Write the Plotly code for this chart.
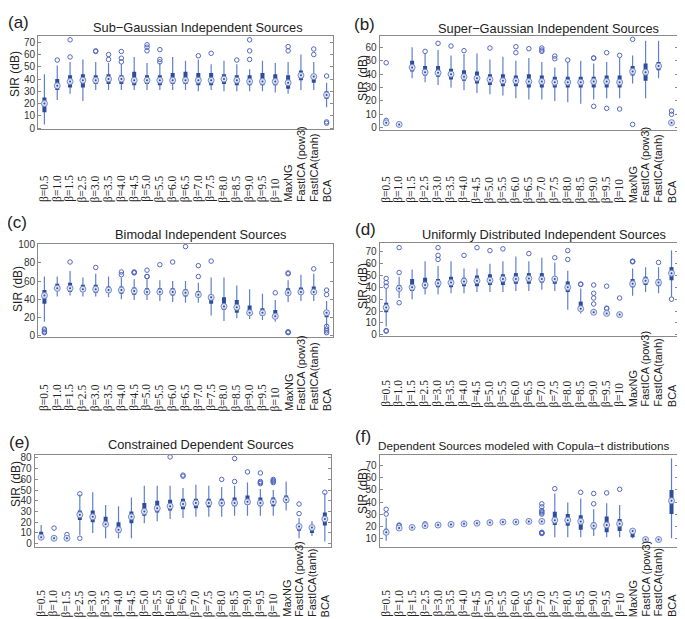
import plotly.graph_objects as go

categories = ["β=0.5", "β=1.0", "β=1.5", "β=2.5", "β=3.0", "β=3.5", "β=4.0", "β=4.5",
              "β=5.0", "β=5.5", "β=6.0", "β=6.5", "β=7.0", "β=7.5", "β=8.0", "β=8.5",
              "β=9.0", "β=9.5", "β=10", "MaxNG", "FastICA (pow3)", "FastICA(tanh)", "BCA"]

panel_letters = ["(a)", "(b)", "(c)", "(d)", "(e)", "(f)"]
panel_titles = ["Sub\u2212Gaussian Independent Sources",
                "Super\u2212Gaussian Independent Sources",
                "Bimodal Independent Sources",
                "Uniformly Distributed Independent Sources",
                "Constrained Dependent Sources",
                "Dependent Sources modeled with Copula\u2212t distributions"]
y_label = "SIR (dB)"

# ---------------- (a) Sub-Gaussian ----------------
a_lo  = [3, 23, 28, 22, 31, 31, 31, 31, 31, 31, 31, 31, 30, 31, 30, 30, 30, 30, 29, 28, 31, 31, 17]
a_q1  = [13, 31, 33, 33, 36, 36, 36, 35, 36, 35, 36, 36, 35, 35, 36, 35, 35, 35, 35, 32, 39, 37, 24]
a_med = [20, 34.5, 38, 39, 39, 40, 40, 39, 39, 39, 39, 39, 39, 39, 40, 39, 38, 38, 38, 37, 43, 42, 27]
a_q3  = [25, 40, 43, 44, 43, 44, 43, 46, 43, 43, 45, 46, 45, 45, 44, 43, 43, 45, 44, 43, 47, 44, 30]
a_hi  = [44, 51, 54, 56, 54, 53, 52, 58, 53, 53, 58, 55, 56, 52, 55, 52, 48, 55, 53, 54, 60, 54, 37]
a_out = [[], [55.5], [58, 72], [], [62.5, 63], [56, 60], [54, 57, 62.5], [], [63, 66, 68],
         [54, 56, 64], [], [], [59], [61], [], [55.5], [56, 63, 72], [], [], [63, 66.5], [],
         [60, 64.5], [4, 5, 42.5]]

# ---------------- (b) Super-Gaussian ----------------
b_lo  = [3, 2, 37, 34, 32, 30, 28, 26, 25, 24, 22, 21, 21, 20, 19, 18, 21, 22, 22, 33, 22, 37, 3]
b_q1  = [3.3, 2.2, 42, 39, 38, 36, 35, 33, 32, 31, 31, 30, 30, 30, 30, 30, 30, 30, 30, 39, 35, 43, 3.2]
b_med = [3.7, 2.5, 45, 41.5, 41, 40, 38, 37, 36, 35, 35, 34.5, 34.5, 34, 34, 34, 34.5, 34.5, 34, 42, 41.5, 46, 3.8]
b_q3  = [4, 2.8, 50, 46, 46, 44, 43, 42, 40, 40, 39, 40, 39, 38, 38, 38, 38, 39, 39, 46, 48, 49, 4.2]
b_hi  = [4.5, 3.2, 60, 55, 58, 54, 55, 55.5, 51, 53, 50, 52, 49, 45, 49, 50, 48, 49, 52, 54, 65, 65, 5]
b_out = [[5.5, 48.5], [], [], [57], [63], [61], [57.5], [], [59.5], [], [56, 60.5], [59],
         [57, 58, 59.5], [51.5, 53.5], [50.5], [], [16, 52, 52], [14.5, 56], [14, 54],
         [2.5, 66], [], [], [10, 12.5]]

# ---------------- (c) Bimodal ----------------
c_lo  = [15, 43, 44, 43, 43, 42, 40, 39, 39, 38, 37, 36, 36, 22, 16, 19, 18, 17, 15, 37, 38, 38, 10]
c_q1  = [35, 49, 48, 48, 47, 47, 46, 45, 45, 45, 44, 43, 42, 35, 28, 25, 22, 22, 18, 44, 45, 45, 20]
c_med = [44, 52, 52, 51, 51, 50, 50, 49, 48, 48, 48, 47, 45, 42, 32, 31, 25, 25, 21, 47, 48, 48, 25]
c_q3  = [50, 57, 58, 56, 56, 54, 54, 53, 52, 52, 52, 51, 49, 45, 42, 39, 33, 30, 28, 52, 53, 54, 28]
c_hi  = [65, 65, 71, 64, 68, 65, 64, 62, 62, 61, 60, 60, 58, 64, 64, 55, 51, 46, 39, 61, 67, 68, 38]
c_out = [[3, 4, 6, 7], [], [81], [], [75], [], [67, 70], [69, 69.5, 70], [65, 65, 72], [78],
         [81], [98], [65, 77], [82], [], [], [], [], [47], [3, 3.5, 4, 68, 69], [], [73.5],
         [3, 5, 7, 10, 45, 50]]

# ---------------- (d) Uniform ----------------
d_lo  = [7, 31, 30, 34, 34, 35, 35, 36, 36, 36, 37, 37, 38, 37, 21, 18, 17, 16, 15.5, 33, 36, 35, 32]
d_q1  = [19, 37, 37, 39, 40, 40, 41, 41, 42, 42, 43, 43, 44, 43, 36, 21, 18, 17, 16.5, 40, 42, 41, 46]
d_med = [23, 39, 40, 42, 43.5, 44, 45, 45.5, 46, 47, 47, 47.5, 47, 47, 40, 22, 19, 18, 17, 43, 45.5, 44, 52]
d_q3  = [27, 42, 47, 48, 47, 49, 48, 50, 51, 51, 52, 52, 52, 49, 45, 28, 20, 19, 18, 47, 49, 47, 57]
d_hi  = [39, 49, 55, 62, 58, 62, 56, 56, 60, 62, 66, 62, 65, 61, 54, 39, 22, 21, 19, 56, 57, 57, 71]
d_out = [[3, 3.5, 41, 44, 47.5], [27, 52.5, 73.5], [], [], [63.5, 67, 73.5], [], [67], [73.5],
         [71], [72.5], [], [68.5], [], [65], [63.5, 71], [42.5, 42.8], [26, 31, 35, 42],
         [22, 22.5, 41], [31], [61.5, 62, 62], [], [61], [30]]

# ---------------- (e) Constrained dependent ----------------
e_lo  = [5.5, 4.5, 4.5, 8, 10, 5, 5, 5, 19, 21, 23, 24, 25, 25, 25, 26, 26, 26, 26, 31, 5, 7, 2]
e_q1  = [6, 4.8, 4.7, 22, 20, 16, 10, 19, 26, 29, 31, 32, 33, 34, 35, 35, 36, 35, 35, 38, 12, 10, 17]
e_med = [6, 5, 5, 27, 25, 18, 13, 25, 30, 33, 35, 37, 38, 38, 38, 38, 39, 38, 39, 41, 16, 15, 23]
e_q3  = [11, 5.3, 5.5, 31, 31, 25, 20, 30, 38, 40, 41, 42, 42, 42, 42, 43, 45, 43, 43, 45, 17, 17, 29]
e_hi  = [17.5, 5.8, 6, 46, 48, 36, 35, 43, 54, 54, 54, 52, 55, 54, 53, 54, 57, 51, 50, 58, 24, 21, 47]
e_out = [[], [14.5], [8.5], [5, 46.5], [], [], [], [], [], [], [81], [63, 64], [], [], [60],
         [58, 79.5], [67], [56, 57, 58, 66], [57, 58, 59, 60], [], [28, 37], [], [48]]

# ---------------- (f) Copula-t dependent ----------------
f_lo  = [8, 18, 18.6, 20.2, 20.7, 21.2, 21.7, 22.2, 22.7, 23.2, 23.2, 23.7, 23.5, 11, 11, 11, 12, 11, 11, 10, 8.8, 8.5, 10]
f_q1  = [14, 18.2, 18.8, 20.4, 20.9, 21.4, 21.9, 22.4, 22.9, 23.4, 23.4, 23.9, 23.8, 21, 20.5, 17, 17.5, 15, 16, 11, 9, 8.8, 30]
f_med = [15, 18.5, 19, 20.5, 21, 21.5, 22, 22.5, 23, 23.5, 23.5, 24, 24, 25, 25, 24, 20.5, 21, 22, 16, 9, 9, 41]
f_q3  = [18, 19, 19.2, 20.7, 21.2, 21.7, 22.2, 22.7, 23.2, 23.7, 23.7, 24.2, 24.2, 32, 30, 29, 23, 28, 26, 16.5, 9.1, 9.2, 50]
f_hi  = [27, 19.5, 19.4, 20.9, 21.4, 21.9, 22.4, 22.9, 23.4, 23.9, 23.9, 24.4, 24.5, 47, 39.5, 43, 34, 39, 37.5, 17, 9.2, 9.5, 76]
f_out = [[30, 34], [20.5, 21], [], [22], [], [], [], [], [], [], [], [],
         [14, 14.3, 14.6, 15, 30, 31, 32, 33, 36, 38.5], [51], [], [48], [38.5, 47], [47.5],
         [50.5], [], [], [], []]

panels = [
    (a_lo, a_q1, a_med, a_q3, a_hi, a_out),
    (b_lo, b_q1, b_med, b_q3, b_hi, b_out),
    (c_lo, c_q1, c_med, c_q3, c_hi, c_out),
    (d_lo, d_q1, d_med, d_q3, d_hi, d_out),
    (e_lo, e_q1, e_med, e_q3, e_hi, e_out),
    (f_lo, f_q1, f_med, f_q3, f_hi, f_out),
]

y_ranges = [[-1, 75], [-1.5, 68.5], [-2, 101], [-1, 77.5], [-3, 83], [3, 79]]
y_ticks = [list(range(0, 71, 10)), list(range(0, 61, 10)), list(range(0, 101, 20)),
           list(range(0, 71, 10)), list(range(0, 81, 10)), list(range(10, 71, 10))]

# ---------------- layout geometry (pixels) ----------------
W, H = 685, 619
def px(v):
    return v / W
def py(v):
    return 1 - v / H

frames = [(30, 325, 23.5, 118), (371.7, 670, 23.3, 118.5),
          (30, 325, 234.3, 329), (371.7, 670, 233.3, 327.7),
          (26.7, 323.3, 448.3, 541.7), (371.7, 670, 448.3, 541.7)]
label_bottom = [194, 195, 406, 402, 615, 615]
# (x, y, anchor, size)
title_pos = [(190, 15, "center", 12.8), (540, 16, "center", 12.8), (192, 225, "center", 12.8),
             (536, 225, "center", 12.8), (192.5, 438, "center", 12.8), (368, 439, "left", 11.7)]
letter_pos = [(10, 10), (356, 12), (9, 213), (357, 220), (11, 436), (355, 430)]
ylab_pos = [(7, 62), (355, 66), (10, 280), (355, 277), (8, 478), (355, 485)]

WHISK = "#5f7fcf"
BOXC = "#2c4c9c"
OUTC = "#5368bf"
FRAME = "#8a8a8a"

fig = go.Figure()
layout = dict(width=W, height=H, margin=dict(l=0, r=0, t=0, b=0),
              paper_bgcolor="white", plot_bgcolor="white", showlegend=False,
              font=dict(family="Liberation Sans, Arial, sans-serif", color="#222"))
annotations = []

for k, (lo, q1, med, q3, hi, out) in enumerate(panels):
    xa = "x" if k == 0 else f"x{k+1}"
    ya = "y" if k == 0 else f"y{k+1}"
    xkey = "xaxis" if k == 0 else f"xaxis{k+1}"
    ykey = "yaxis" if k == 0 else f"yaxis{k+1}"
    x0, x1, y0, y1 = frames[k]
    n = len(categories)
    pos = list(range(1, n + 1))

    wx, wy, bx, by = [], [], [], []
    for i in range(n):
        wx += [pos[i], pos[i], None]
        wy += [lo[i], hi[i], None]
        bx += [pos[i], pos[i], None]
        by += [q1[i], q3[i], None]
    ox, oy = [], []
    for i in range(n):
        for v in out[i]:
            ox.append(pos[i])
            oy.append(v)

    fig.add_trace(go.Scatter(x=wx, y=wy, mode="lines", line=dict(color=WHISK, width=1.2),
                             xaxis=xa, yaxis=ya, hoverinfo="skip"))
    fig.add_trace(go.Scatter(x=bx, y=by, mode="lines", line=dict(color=BOXC, width=4),
                             xaxis=xa, yaxis=ya, hoverinfo="skip"))
    fig.add_trace(go.Scatter(x=ox, y=oy, mode="markers",
                             marker=dict(symbol="circle-open", size=4.5, color=OUTC, line=dict(width=1)),
                             xaxis=xa, yaxis=ya, hoverinfo="skip"))
    fig.add_trace(go.Scatter(x=pos, y=med, mode="markers",
                             marker=dict(symbol="circle", size=6, color="#dfe5f5",
                                         line=dict(color="#7489cc", width=1)),
                             xaxis=xa, yaxis=ya, hoverinfo="skip"))
    fig.add_trace(go.Scatter(x=pos, y=med, mode="markers",
                             marker=dict(symbol="circle", size=2, color=BOXC),
                             xaxis=xa, yaxis=ya, hoverinfo="skip"))

    layout[xkey] = dict(domain=[px(x0), px(x1)], anchor=ya, range=[0.5, n + 0.5],
                        showgrid=False, zeroline=False, showticklabels=False, ticks="",
                        showline=True, linecolor=FRAME, linewidth=1, mirror=True, fixedrange=True)
    layout[ykey] = dict(domain=[py(y1), py(y0)], anchor=xa, range=y_ranges[k],
                        tickvals=y_ticks[k], showgrid=False, zeroline=False,
                        showline=True, linecolor=FRAME, linewidth=1, mirror="ticks",
                        ticks="inside", ticklen=3, tickcolor=FRAME,
                        tickfont=dict(size=10, color="#333"), fixedrange=True)

    # category labels (rotated, bottom aligned)
    for i, c in enumerate(categories):
        serif = c.startswith("β")
        annotations.append(dict(
            text=c, x=pos[i], xref=xa, y=py(label_bottom[k]), yref="paper",
            textangle=-90, xanchor="center", yanchor="bottom", showarrow=False,
            font=dict(size=11.5 if serif else 11,
                      family="Liberation Serif, Times New Roman, serif" if serif
                      else "Liberation Sans, Arial, sans-serif", color="#222")))
    tx, ty, tanchor, tsize = title_pos[k]
    annotations.append(dict(text=panel_titles[k], x=px(tx), y=py(ty), xref="paper", yref="paper",
                            xanchor=tanchor, yanchor="middle", showarrow=False,
                            font=dict(size=tsize, color="#222")))
    lx, ly = letter_pos[k]
    annotations.append(dict(text=panel_letters[k], x=px(lx), y=py(ly), xref="paper", yref="paper",
                            xanchor="center", yanchor="middle", showarrow=False,
                            font=dict(size=17, color="#222")))
    gx, gy = ylab_pos[k]
    annotations.append(dict(text=y_label, x=px(gx), y=py(gy), xref="paper", yref="paper",
                            textangle=-90, xanchor="center", yanchor="middle", showarrow=False,
                            font=dict(size=12, color="#222")))

layout["annotations"] = annotations
fig.update_layout(**layout)
fig.write_html("out.html")
